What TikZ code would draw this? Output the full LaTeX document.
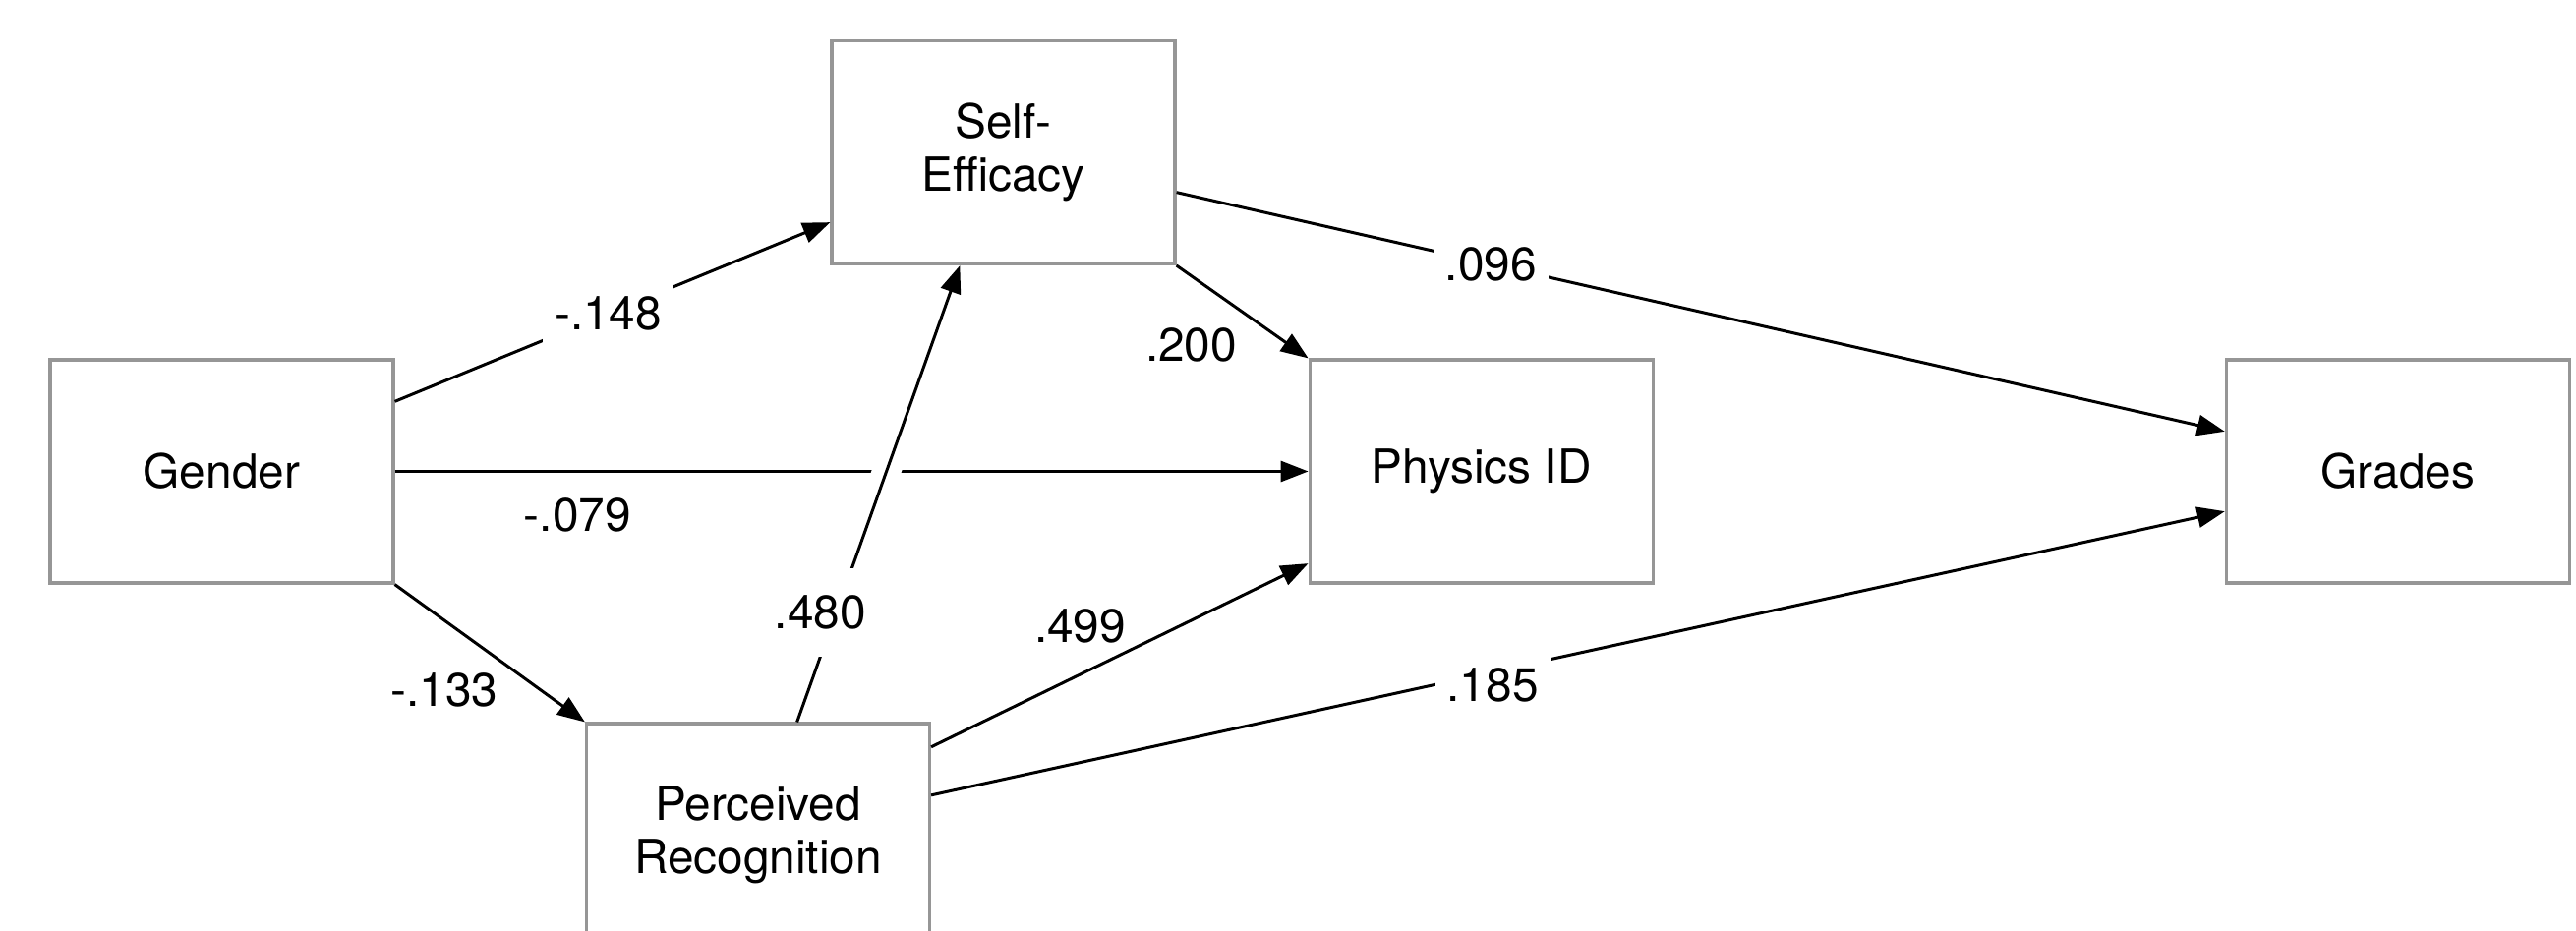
\documentclass[tikz,border=0pt]{standalone}
\usepackage{fontspec}
\setmainfont{TeX Gyre Heros}
\usetikzlibrary{arrows.meta, positioning, calc}
\definecolor{boxgray}{RGB}{150,150,150}

\begin{document}
\begin{tikzpicture}[
    var/.style={draw=boxgray, line width=0.9pt, minimum width=3.49cm, minimum height=2.27cm, align=center, inner sep=0pt, font=\fontsize{13.6}{15.4}\selectfont},
    link/.style={-{Triangle[length=0.28cm,width=0.21cm]}, line width=0.85pt},
    coef/.style={font=\fontsize{13.6}{15.4}\selectfont, inner sep=0pt},
    cut/.style={coef, fill=white, inner xsep=0.12cm, inner ysep=0.15cm}
  ]
    \path[use as bounding box, clip] (0,0) rectangle (26.2,9.46);
    \node[var] (G) at (2.255,4.665) {Gender};
    \node[var] (SE) at (10.205,7.91) {Self-\\Efficacy};
    \node[var] (PR) at (7.71,0.965) {Perceived\\Recognition};
    \node[var, right=9.29cm of G] (PID) {Physics ID};
    \node[var, right=5.8cm of PID] (GR) {Grades};

    \draw[link] (G.22) -- node[cut, pos=0.49] (c148) {-.148} (SE.202);
    \draw[link] (G.east) -- node[coef, pos=0.2, anchor=north, yshift=-0.26cm] (c079) {-.079} (PID.west);
    \draw[link] (G.south east) -- node[coef, pos=0.55, anchor=north east, yshift=-0.12cm] (c133) {-.133} (PR.north west);
    % gap where the .480 path crosses the gender path
    \draw[white, line width=0.29cm] ($(PR.71)!0.5!(SE.249)$) -- ($(PR.71)!0.6!(SE.249)$);
    \draw[link] (PR.71) -- node[cut, pos=0.24, xshift=-0.16cm, inner ysep=0.28cm] (c480) {.480} (SE.249);
    \draw[link] (SE.south east) -- node[coef, pos=0.47, anchor=north east, yshift=-0.18cm] (c200) {.200} (PID.north west);
    \draw[link] (PR.27) -- node[coef, pos=0.52, anchor=south east, yshift=0.07cm] (c499) {.499} (PID.208);
    \draw[link] (SE.347) -- node[cut, pos=0.3] (c096) {.096} (GR.167);
    \draw[link] (PR.13) -- node[cut, pos=0.434, yshift=-0.13cm] (c185) {.185} (GR.193);
\end{tikzpicture}
\end{document}
